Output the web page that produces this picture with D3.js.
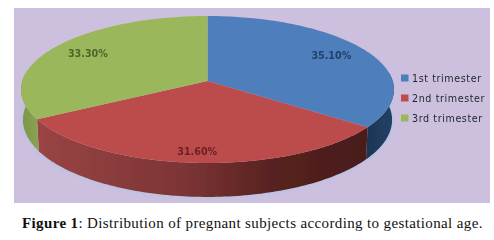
<!DOCTYPE html>
<html>
<meta charset="utf-8">
<style>
  body { margin: 0; background: #fff; }
  svg { display: block; }
  .pct { font-family: "DejaVu Sans", sans-serif; font-size: 9.6px; font-weight: bold; }
  .leg { font-family: "DejaVu Sans", sans-serif; font-size: 9.6px; letter-spacing: 0.58px; fill: #1d2430; }
  .cap { font-family: "Liberation Serif", serif; font-size: 15px; letter-spacing: 0.37px; fill: #111; }
</style>
<body>
<script src="https://cdnjs.cloudflare.com/ajax/libs/d3/7.8.5/d3.min.js"></script>
<script>
var categories = ['1st trimester', '2nd trimester', '3rd trimester'];
var values = [35.1, 31.6, 33.3];
var labels = ['35.10%', '31.60%', '33.30%'];
var labelRadii = [0.78, 0.88, 0.78];
var topColors = ['#4f7ebd', '#bc4b4c', '#9bb75b'];
var labelColors = ['#23426b', '#6b2224', '#4f6528'];

var width = 494, height = 240;
var svg = d3.select('body').append('svg').attr('width', width).attr('height', height);
var defs = svg.append('defs');

defs.append('filter').attr('id', 'soft').append('feGaussianBlur').attr('stdDeviation', 0.6);
defs.append('filter').attr('id', 'halo').append('feGaussianBlur').attr('stdDeviation', 1.5);

var redWall = defs.append('linearGradient').attr('id', 'redWall');
redWall.append('stop').attr('offset', '0%').attr('stop-color', '#9a4444');
redWall.append('stop').attr('offset', '45%').attr('stop-color', '#7c3434');
redWall.append('stop').attr('offset', '72%').attr('stop-color', '#562220');
redWall.append('stop').attr('offset', '100%').attr('stop-color', '#4a1b19');

var blueWall = defs.append('linearGradient').attr('id', 'blueWall');
blueWall.append('stop').attr('offset', '0%').attr('stop-color', '#1d3553');
blueWall.append('stop').attr('offset', '100%').attr('stop-color', '#234168');

var greenWall = defs.append('linearGradient').attr('id', 'greenWall');
greenWall.append('stop').attr('offset', '0%').attr('stop-color', '#7d9548');
greenWall.append('stop').attr('offset', '100%').attr('stop-color', '#8aa350');

var wallFills = ['url(#blueWall)', 'url(#redWall)', 'url(#greenWall)'];

svg.append('rect').attr('x', 14).attr('y', 8).attr('width', 476).attr('height', 195).attr('fill', '#cdc0de');

// the pie is a real perspective view: a unit circle pushed through this
var cx = 207.5, cy = 81, rx = 185.2, ry = 72.5, persp = 0.1157, drop = 30;
function project(a, lower) {
  var u = Math.sin(a), v = -Math.cos(a), w = 1 - persp * v;
  var sx = lower ? 0.99 : 1;
  return [cx + sx * rx * u / w, cy + (ry * v + (lower ? drop : 0)) / w];
}
function arcPoints(a0, a1, lower) {
  var n = Math.max(2, Math.ceil(Math.abs(a1 - a0) / 0.02));
  return d3.range(n + 1).map(function(i) { return project(a0 + (a1 - a0) * i / n, lower); });
}
var line = d3.line();

var slices = d3.pie().sort(null)(values);
var chart = svg.append('g').attr('filter', 'url(#soft)');

// pale glow under the disc
chart.append('path')
  .attr('d', line(arcPoints(Math.PI * 0.45, Math.PI * 1.55, true)))
  .attr('fill', 'none')
  .attr('stroke', '#b4c3e4')
  .attr('stroke-width', 3)
  .attr('filter', 'url(#halo)');

// side walls, only the front half of the rim shows
var frontFrom = Math.PI / 2 - 0.12, frontTo = Math.PI * 1.5 + 0.12;
slices.forEach(function(d, i) {
  var a0 = Math.max(d.startAngle, frontFrom), a1 = Math.min(d.endAngle, frontTo);
  if (a1 <= a0) return;
  var pts = arcPoints(a0, a1, false).concat(arcPoints(a1, a0, true));
  chart.append('path').attr('d', line(pts) + 'Z').attr('fill', wallFills[i]);
});

// top faces
slices.forEach(function(d, i) {
  var pts = [[cx, cy]].concat(arcPoints(d.startAngle, d.endAngle, false));
  chart.append('path').attr('d', line(pts) + 'Z').attr('fill', topColors[i]);
});

// percent labels, placed along each slice's middle
chart.selectAll('.pct').data(slices).enter().append('text')
  .attr('class', 'pct')
  .attr('text-anchor', 'middle')
  .attr('fill', function(d, i) { return labelColors[i]; })
  .attr('x', function(d, i) {
    var a = (d.startAngle + d.endAngle) / 2, u = Math.sin(a), v = -Math.cos(a);
    return cx + rx * labelRadii[i] * u / (1 - persp * labelRadii[i] * v);
  })
  .attr('y', function(d, i) {
    var a = (d.startAngle + d.endAngle) / 2, v = -Math.cos(a);
    return cy + ry * labelRadii[i] * v / (1 - persp * labelRadii[i] * v) + 3;
  })
  .text(function(d, i) { return labels[i]; });

// legend
var legendY = d3.scalePoint().domain(categories).range([78, 118]);
var legend = chart.selectAll('.legItem').data(categories).enter().append('g')
  .attr('class', 'legItem')
  .attr('transform', function(d) { return 'translate(401,' + legendY(d) + ')'; });
legend.append('rect').attr('y', -3.5).attr('width', 7.5).attr('height', 7)
  .attr('fill', function(d, i) { return topColors[i]; });
legend.append('text').attr('class', 'leg').attr('x', 11).attr('y', 3.5)
  .text(function(d) { return d; });

// caption
var cap = svg.append('text').attr('class', 'cap').attr('x', 22).attr('y', 228);
cap.append('tspan').attr('font-weight', 'bold').text('Figure 1');
cap.append('tspan').text(': Distribution of pregnant subjects according to gestational age.');
</script>
</body>
</html>
